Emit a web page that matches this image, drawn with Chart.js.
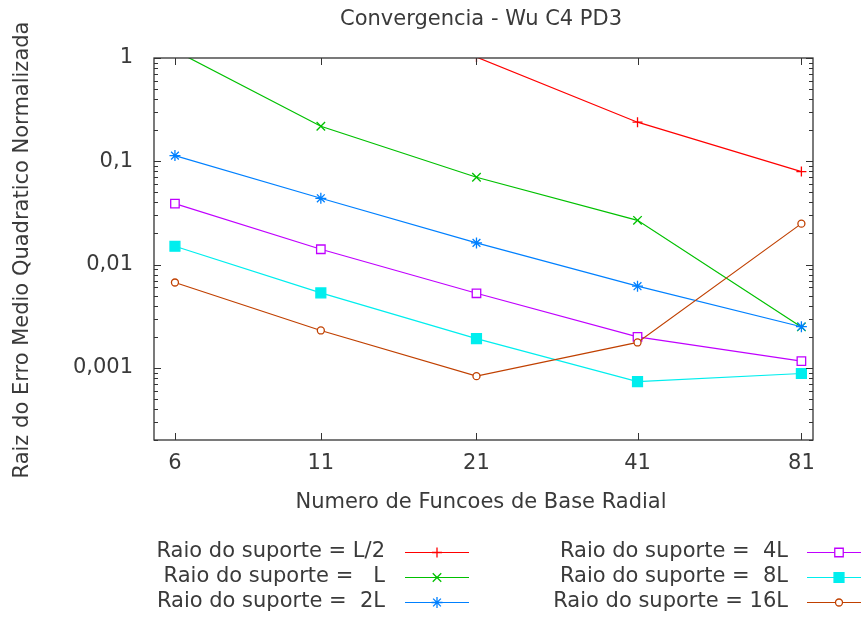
<!DOCTYPE html>
<html>
<head>
<meta charset="utf-8">
<script src="https://cdn.jsdelivr.net/npm/chart.js@4.4.1/dist/chart.umd.min.js"></script>
<style>
  html, body { margin: 0; padding: 0; background: #ffffff; }
  #wrap { width: 861px; height: 619px; }
</style>
</head>
<body>
<div id="wrap"><canvas id="c" width="861" height="619"></canvas></div>
<script>
// Texts
const chartTitle = 'Convergencia - Wu C4 PD3';
const xTitle = 'Numero de Funcoes de Base Radial';
const yTitle = 'Raiz do Erro Medio Quadratico Normalizada';

// Number of radial basis functions (x, log scale)
const basisCounts = [6, 11, 21, 41, 81];
const xTickLabels = ['6', '11', '21', '41', '81'];

// Y tick values and their labels (decimal comma)
const yTickValues = [1, 0.1, 0.01, 0.001];
const yTickLabels = ['1', '0,1', '0,01', '0,001'];

// Legend labels, one per support radius
const seriesLabels = [
  'Raio do suporte = L/2',
  'Raio do suporte =   L',
  'Raio do suporte =  2L',
  'Raio do suporte =  4L',
  'Raio do suporte =  8L',
  'Raio do suporte = 16L'
];

// Normalised RMS error for each support radius
const errHalfL = [null, null, 1.02, 0.239, 0.0794];
const errL     = [1.18, 0.218, 0.070, 0.0268, 0.00249];
const err2L    = [0.1135, 0.0438, 0.0162, 0.00617, 0.0025];
const err4L    = [0.0389, 0.01406, 0.00527, 0.00199, 0.00116];
const err8L    = [0.01503, 0.00531, 0.00192, 0.000736, 0.000881];
const err16L   = [0.0067, 0.0023, 0.00083, 0.00176, 0.0249];

const seriesValues = [errHalfL, errL, err2L, err4L, err8L, err16L];
const seriesColors = ['#ff0000', '#00c000', '#0080ff', '#c000ff', '#00eeee', '#c04000'];
const seriesStyles = [
  { pointStyle: 'cross',    radius: 5,   fill: false },
  { pointStyle: 'crossRot', radius: 6,   fill: false },
  { pointStyle: 'star',     radius: 5.5, fill: false },
  { pointStyle: 'rect',     radius: 6,   fill: false },
  { pointStyle: 'rect',     radius: 7,   fill: true  },
  { pointStyle: 'circle',   radius: 3.5, fill: false }
];

const FONT = '"DejaVu Sans", "Liberation Sans", sans-serif';
const TEXT = '#3a3a3a';
const AXIS = '#333333';

const datasets = seriesValues.map((vals, i) => ({
  label: seriesLabels[i],
  data: basisCounts.map((n, k) => ({ x: n, y: vals[k] })),
  borderColor: seriesColors[i],
  backgroundColor: seriesStyles[i].fill ? seriesColors[i] : '#ffffff',
  borderWidth: 1.2,
  pointStyle: seriesStyles[i].pointStyle,
  pointRadius: seriesStyles[i].radius,
  pointHoverRadius: seriesStyles[i].radius,
  pointBorderWidth: 1.3,
  pointBorderColor: seriesColors[i],
  pointBackgroundColor: seriesStyles[i].fill ? seriesColors[i] : '#ffffff',
  tension: 0,
  spanGaps: false,
  order: seriesValues.length - i
}));

// Border, inward ticks (major + log minor), titles and the two-column key
const decorPlugin = {
  id: 'decor',
  afterDraw(chart) {
    const ctx = chart.ctx;
    const a = chart.chartArea;
    const xs = chart.scales.x, ys = chart.scales.y;
    ctx.save();

    // frame
    ctx.strokeStyle = AXIS;
    ctx.lineWidth = 1.3;
    ctx.strokeRect(a.left, a.top, a.right - a.left, a.bottom - a.top);

    // y ticks, mirrored on both sides
    ctx.lineWidth = 1;
    const yMin = ys.min, yMax = ys.max;
    for (let e = Math.floor(Math.log10(yMin)); e <= Math.ceil(Math.log10(yMax)); e++) {
      for (let m = 1; m <= 9; m++) {
        const v = m * Math.pow(10, e);
        if (v < yMin * 0.9999 || v > yMax * 1.0001) continue;
        const py = Math.round(ys.getPixelForValue(v)) + 0.5;
        const len = m === 1 ? 7 : 4;
        ctx.beginPath();
        ctx.moveTo(a.left, py); ctx.lineTo(a.left + len, py);
        ctx.moveTo(a.right, py); ctx.lineTo(a.right - len, py);
        ctx.stroke();
      }
    }
    // x ticks, bottom and top
    basisCounts.forEach(n => {
      const px = Math.round(xs.getPixelForValue(n)) + 0.5;
      ctx.beginPath();
      ctx.moveTo(px, a.bottom); ctx.lineTo(px, a.bottom - 7);
      ctx.moveTo(px, a.top); ctx.lineTo(px, a.top + 7);
      ctx.stroke();
    });

    // titles
    ctx.fillStyle = TEXT;
    ctx.font = '21px ' + FONT;
    ctx.textAlign = 'center';
    ctx.textBaseline = 'alphabetic';
    ctx.fillText(chartTitle, 481, 25);
    ctx.fillText(xTitle, 481, 508);
    ctx.save();
    ctx.translate(28, 250);
    ctx.rotate(-Math.PI / 2);
    ctx.fillText(yTitle, 0, 0);
    ctx.restore();

    // key
    const rowY = [552, 577, 602];
    const textRight = [385, 788];
    const lineStart = [405, 807];
    const lineLen = 64;
    chart.data.datasets.forEach((ds, i) => {
      const col = i < 3 ? 0 : 1;
      const row = i % 3;
      const y = rowY[row];
      ctx.fillStyle = TEXT;
      ctx.font = '21px ' + FONT;
      ctx.textAlign = 'right';
      ctx.textBaseline = 'middle';
      ctx.fillText(ds.label, textRight[col], y);
      ctx.strokeStyle = ds.borderColor;
      ctx.lineWidth = ds.borderWidth;
      ctx.beginPath();
      ctx.moveTo(lineStart[col], y + 0.5);
      ctx.lineTo(lineStart[col] + lineLen, y + 0.5);
      ctx.stroke();
      ctx.fillStyle = ds.pointBackgroundColor;
      ctx.strokeStyle = ds.pointBorderColor;
      ctx.lineWidth = ds.pointBorderWidth;
      Chart.helpers.drawPoint(ctx, {
        pointStyle: ds.pointStyle,
        radius: ds.pointRadius,
        rotation: 0,
        borderWidth: ds.pointBorderWidth
      }, lineStart[col] + lineLen / 2, y + 0.5);
    });
    ctx.restore();
  }
};

new Chart(document.getElementById('c'), {
  type: 'line',
  data: { datasets },
  options: {
    responsive: false,
    devicePixelRatio: 1,
    animation: false,
    events: [],
    layout: { padding: { left: 0, top: 58, right: 48, bottom: 0 } },
    plugins: { legend: { display: false }, title: { display: false }, tooltip: { enabled: false } },
    scales: {
      x: {
        type: 'logarithmic',
        min: 5.5,
        max: 85,
        afterBuildTicks: s => { s.ticks = basisCounts.map(v => ({ value: v })); },
        afterFit: s => { s.height = 179; },
        grid: { display: false, drawTicks: false },
        border: { display: false },
        ticks: {
          autoSkip: false,
          maxRotation: 0,
          padding: 11,
          color: TEXT,
          font: { family: FONT, size: 21 },
          callback: (v) => { const k = basisCounts.indexOf(v); return k >= 0 ? xTickLabels[k] : ''; }
        }
      },
      y: {
        type: 'logarithmic',
        min: 0.0002,
        max: 1,
        afterBuildTicks: s => { s.ticks = yTickValues.map(v => ({ value: v })); },
        afterFit: s => { s.width = 154; },
        grid: { display: false, drawTicks: false },
        border: { display: false },
        ticks: {
          autoSkip: false,
          padding: 21,
          color: TEXT,
          font: { family: FONT, size: 21 },
          callback: (v) => { const k = yTickValues.findIndex(t => Math.abs(t - v) < t * 1e-6); return k >= 0 ? yTickLabels[k] : ''; }
        }
      }
    }
  },
  plugins: [decorPlugin]
});
</script>
</body>
</html>
